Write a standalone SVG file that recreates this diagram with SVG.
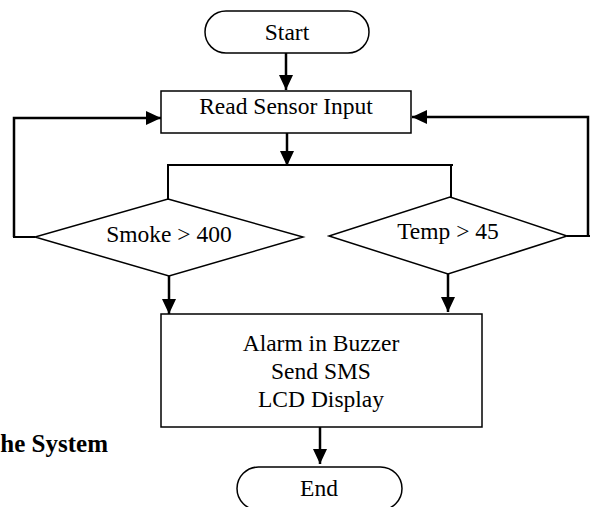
<svg xmlns="http://www.w3.org/2000/svg" width="591" height="507" viewBox="0 0 591 507">
<style>
.shape{fill:#fff;stroke:#000;stroke-width:1.5}
.conn{fill:none;stroke:#000;stroke-width:2.5}
.thin{fill:none;stroke:#000;stroke-width:2}
text{font-family:"Liberation Serif","Times New Roman",serif;font-size:23.5px;fill:#000;text-anchor:middle}
.cap{font-weight:bold;text-anchor:end;font-size:25px}
</style>
<defs>
<marker id="ah" viewBox="0 0 15 14" refX="15" refY="7" markerWidth="15" markerHeight="14" markerUnits="userSpaceOnUse" orient="auto">
<path d="M0,0 L15,7 L0,14 Z" fill="#000"/>
</marker>
</defs>
<rect width="591" height="507" fill="#fff"/>
<g id="connectors">
<line class="conn" x1="286" y1="53" x2="286" y2="90" marker-end="url(#ah)"/>
<line class="conn" x1="287" y1="133" x2="287" y2="166" marker-end="url(#ah)"/>
<polyline class="thin" points="168,199 168,165 453,165"/>
<line class="thin" x1="451" y1="165" x2="451" y2="197"/>
<polyline class="thin" points="35,237 13,237"/>
<polyline class="conn" points="14,237 14,118 161,118" marker-end="url(#ah)"/>
<polyline class="thin" points="567,236 590,236"/>
<polyline class="conn" points="588,237 588,117 412,117" marker-end="url(#ah)"/>
<line class="conn" x1="169" y1="276" x2="169" y2="314" marker-end="url(#ah)"/>
<line class="conn" x1="448" y1="274" x2="448" y2="312" marker-end="url(#ah)"/>
<line class="conn" x1="320" y1="427" x2="320" y2="464" marker-end="url(#ah)"/>
</g>
<g id="start">
<rect class="shape" x="205" y="11" width="164" height="42" rx="21" ry="21"/>
<text x="287" y="40">Start</text>
</g>
<g id="read">
<rect class="shape" x="161" y="91" width="250" height="42"/>
<text x="286" y="114">Read Sensor Input</text>
</g>
<g id="smoke">
<polygon class="shape" points="168,199 303,237 169,276 35,237"/>
<text x="169" y="242">Smoke &gt; 400</text>
</g>
<g id="temp">
<polygon class="shape" points="450,197 567,236 448,274 329,236"/>
<text x="448" y="239">Temp &gt; 45</text>
</g>
<g id="action">
<rect class="shape" x="161" y="314" width="321" height="113"/>
<text x="321" y="351">Alarm in Buzzer</text>
<text x="321" y="379">Send SMS</text>
<text x="321" y="407">LCD Display</text>
</g>
<g id="end">
<rect class="shape" x="237" y="467" width="165" height="43" rx="21.5" ry="21.5"/>
<text x="319" y="496">End</text>
</g>
<text class="cap" x="108" y="452">he System</text>
</svg>
